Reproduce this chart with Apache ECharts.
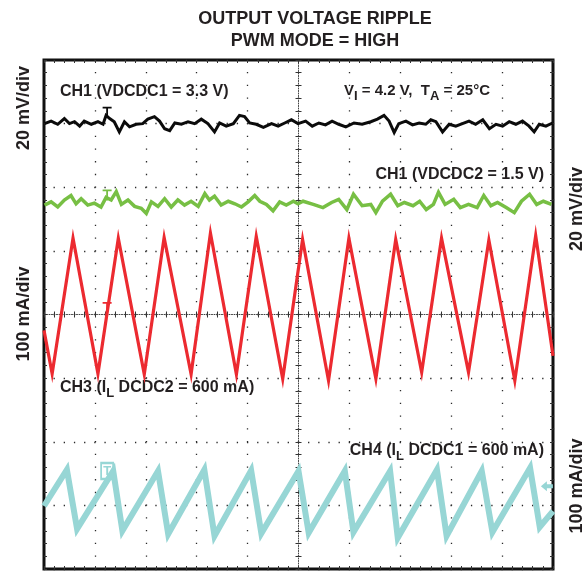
<!DOCTYPE html>
<html><head><meta charset="utf-8">
<script src="https://cdn.jsdelivr.net/npm/echarts@6/dist/echarts.min.js"></script>
<style>html,body{margin:0;padding:0;background:#fff}#c{width:587px;height:571px}</style>
</head><body><div id="c"></div>
<script>
// Values are in screen divisions: time 0..10 div, amplitude -4..4 div
var titleLines = ['OUTPUT VOLTAGE RIPPLE', 'PWM MODE = HIGH'];
var ch1Label = 'CH1 (VDCDC1 = 3.3 V)';
var ch2Label = 'CH1 (VDCDC2 = 1.5 V)';
var ch3Label = 'CH3 (I{s|L} DCDC2 = 600 mA)';
var ch4Label = 'CH4 (I{s|L} DCDC1 = 600 mA)';
var condLabel = 'V{s|I} = 4.2 V,  T{s|A} = 25°C';
var scaleLabels = ['20 mV/div', '100 mA/div'];

var ch1VDCDC1 = [[0.01,3.00],[0.14,3.04],[0.27,2.99],[0.40,3.08],[0.50,3.00],[0.60,3.03],[0.70,2.96],[0.79,3.04],[0.93,2.99],[1.06,3.03],[1.16,2.99],[1.22,3.13],[1.29,3.08],[1.38,3.03],[1.48,2.87],[1.58,3.03],[1.68,2.95],[1.81,2.99],[1.94,3.00],[2.04,3.07],[2.17,3.11],[2.27,3.04],[2.37,2.92],[2.47,2.89],[2.57,3.01],[2.70,2.99],[2.83,3.03],[2.96,3.00],[3.09,3.07],[3.22,3.00],[3.35,2.87],[3.45,3.01],[3.58,2.96],[3.72,3.00],[3.84,3.13],[3.94,3.11],[4.04,3.01],[4.17,2.99],[4.31,2.94],[4.47,3.00],[4.60,2.96],[4.73,3.01],[4.86,3.06],[4.99,3.00],[5.14,3.04],[5.27,2.96],[5.40,3.01],[5.53,2.98],[5.66,3.04],[5.79,2.99],[5.93,2.95],[6.09,3.01],[6.25,2.99],[6.42,3.03],[6.55,3.07],[6.68,3.13],[6.78,3.04],[6.88,2.86],[6.97,3.00],[7.11,3.04],[7.24,2.98],[7.37,3.01],[7.50,2.99],[7.60,3.06],[7.70,3.03],[7.83,2.87],[7.96,2.99],[8.09,2.96],[8.22,3.00],[8.35,3.04],[8.48,2.99],[8.62,3.06],[8.75,2.92],[8.88,2.99],[9.01,2.96],[9.14,3.03],[9.27,2.99],[9.40,3.04],[9.53,2.96],[9.63,2.87],[9.73,2.99],[9.86,2.96],[9.99,3.01]];

var ch1VDCDC2 = [[0.01,1.72],[0.14,1.77],[0.27,1.69],[0.40,1.80],[0.53,1.87],[0.63,1.74],[0.73,1.82],[0.86,1.72],[0.99,1.75],[1.12,1.69],[1.22,1.84],[1.32,1.80],[1.42,1.93],[1.52,1.73],[1.65,1.80],[1.78,1.70],[1.91,1.67],[2.01,1.59],[2.11,1.77],[2.24,1.70],[2.37,1.82],[2.50,1.69],[2.63,1.80],[2.76,1.72],[2.89,1.78],[3.03,1.70],[3.16,1.90],[3.25,1.80],[3.35,1.86],[3.48,1.72],[3.62,1.78],[3.75,1.74],[3.88,1.69],[4.01,1.77],[4.14,1.87],[4.24,1.78],[4.37,1.73],[4.50,1.63],[4.63,1.77],[4.76,1.72],[4.90,1.78],[4.99,1.74],[5.09,1.78],[5.29,1.73],[5.48,1.68],[5.65,1.76],[5.79,1.81],[5.95,1.65],[6.08,1.89],[6.25,1.71],[6.42,1.73],[6.52,1.60],[6.65,1.78],[6.81,1.89],[6.95,1.71],[7.08,1.76],[7.25,1.71],[7.38,1.78],[7.51,1.65],[7.65,1.73],[7.75,1.92],[7.88,1.73],[8.05,1.81],[8.18,1.68],[8.34,1.73],[8.51,1.68],[8.64,1.87],[8.78,1.71],[8.91,1.76],[9.08,1.68],[9.24,1.60],[9.38,1.78],[9.54,1.89],[9.68,1.73],[9.81,1.78],[9.97,1.73]];

var ch3ILDCDC2 = [[0.00,-0.25],[0.16,-0.93],[0.57,1.20],[1.06,-0.93],[1.46,1.20],[1.97,-0.94],[2.36,1.21],[2.89,-0.94],[3.27,1.28],[3.78,-0.94],[4.17,1.23],[4.69,-1.01],[5.08,1.18],[5.59,-1.04],[5.99,1.20],[6.52,-1.01],[6.91,1.18],[7.42,-0.91],[7.81,1.20],[8.34,-0.91],[8.74,1.17],[9.25,-1.04],[9.66,1.24],[10.00,-0.65]];

var ch4ILDCDC1 = [[0.00,-3.01],[0.45,-2.44],[0.65,-3.37],[1.36,-2.46],[1.54,-3.40],[2.24,-2.46],[2.44,-3.45],[3.15,-2.44],[3.35,-3.48],[4.07,-2.45],[4.27,-3.44],[5.00,-2.46],[5.20,-3.43],[5.91,-2.46],[6.08,-3.42],[6.80,-2.46],[6.95,-3.51],[7.72,-2.44],[7.91,-3.48],[8.60,-2.46],[8.81,-3.42],[9.55,-2.41],[9.74,-3.34],[10.00,-3.09]];

var triggerX = 1.24;
var triggerLevels = [3.18, 1.88, 0.11, -2.46];
var ch4Ground = [9.88, -2.70];

var colors = {ch1:'#0b0b0b', ch2:'#77bf44', ch3:'#ec2a30', ch4:'#97d6d5', text:'#231f20', grid:'#2a2a2a'};
var FONT = '"Liberation Sans", Arial, sans-serif';
var TPATH = 'path://M0,0H10V2H6V12H4V2H0Z';

function xAx(pos, onZero, inside, withSplit, lineShow) {
  return {type:'value', min:0, max:10, interval:1, position:pos,
    axisLine:{show:lineShow, onZero:onZero, lineStyle:{color:'#444', width:1, type:[1,1.5]}},
    axisTick:{show:true, inside:inside, length:3, lineStyle:{color:'#333', width:1}},
    minorTick:{show:true, splitNumber:5, length:3, lineStyle:{color:'#333', width:1}},
    axisLabel:{show:false},
    splitLine:{show:withSplit, lineStyle:{color:colors.grid, width:1.3, type:[1.3,11.42], dashOffset:0.65}},
    minorSplitLine:{show:false}};
}
function yAx(pos, offset, inside, withSplit, lineShow) {
  return {type:'value', min:-4, max:4, interval:1, position:pos, offset:offset,
    axisLine:{show:lineShow, onZero:false, lineStyle:{color:'#444', width:1, type:[1,1.5]}},
    axisTick:{show:true, inside:inside, length:3, lineStyle:{color:'#333', width:1}},
    minorTick:{show:true, splitNumber:5, length:3, lineStyle:{color:'#333', width:1}},
    axisLabel:{show:false},
    splitLine:{show:withSplit, lineStyle:{color:colors.grid, width:1.3, type:[1.3,8.88], dashOffset:0.65}},
    minorSplitLine:{show:false}};
}

function trace(name, data, color, width, mark) {
  return {name:name, type:'line', data:data, xAxisIndex:0, yAxisIndex:0, showSymbol:false, symbol:'none',
    lineStyle:{color:color, width:width, join:'miter'}, itemStyle:{color:color}, silent:true, animation:false,
    markPoint: mark};
}
function tMark(level, color) {
  return {silent:true, symbol:TPATH, symbolSize:[9,11], itemStyle:{color:color}, label:{show:false},
    data:[{coord:[triggerX, level]}]};
}

var rich = {s:{fontSize:13, fontWeight:'bold', fontFamily:FONT, fill:colors.text, padding:[10,0,0,0]}};
function txt(text, x, y, size, align, rot) {
  return {type:'text', x:x, y:y, rotation:rot||0, silent:true,
    style:{text:text, fontSize:size, fontWeight:'bold', fontFamily:FONT, fill:colors.text,
      align:align, verticalAlign:'middle', rich:rich}};
}

var chart = echarts.init(document.getElementById('c'), null, {renderer:'canvas'});
chart.setOption({
  animation:false,
  backgroundColor:'#ffffff',
  grid:{left:44, top:60, width:509, height:509, show:true, borderColor:'#111', borderWidth:3, backgroundColor:'#fff'},
  xAxis:[xAx('bottom', true, false, true, true), xAx('top', true, false, false, false),
         xAx('bottom', false, true, false, false), xAx('top', false, true, false, false)],
  yAxis:[yAx('left', -254.5, false, true, true), yAx('right', -254.5, false, false, false),
         yAx('left', 0, true, false, false), yAx('right', 0, true, false, false)],
  series:[
    trace('CH4', ch4ILDCDC1, colors.ch4, 6, {silent:true, label:{show:false}, data:[
      {coord:[triggerX, triggerLevels[3]], symbol:'rect', symbolSize:[12,16],
       itemStyle:{color:'rgba(255,255,255,0)', borderColor:colors.ch4, borderWidth:2},
       label:{show:true, position:'inside', formatter:'T', color:colors.ch4, fontWeight:'bold', fontSize:13}},
      {coord:ch4Ground, symbol:'path://M0,5L7,0V3H14V7H7V10Z', symbolSize:[12,10], itemStyle:{color:colors.ch4}}]}),
    trace('CH3', ch3ILDCDC2, colors.ch3, 3.2, tMark(triggerLevels[2], colors.ch3)),
    trace('CH2', ch1VDCDC2, colors.ch2, 3.5, tMark(triggerLevels[1], colors.ch2)),
    trace('CH1', ch1VDCDC1, colors.ch1, 3, tMark(triggerLevels[0], colors.ch1))
  ],
  graphic:[
    txt(titleLines[0], 315, 19, 18, 'center'),
    txt(titleLines[1], 315, 41, 18, 'center'),
    txt(ch1Label, 60, 92, 16, 'left'),
    txt(condLabel, 344, 91, 15, 'left'),
    txt(ch2Label, 544, 175, 16, 'right'),
    txt(ch3Label, 60, 388, 16, 'left'),
    txt(ch4Label, 544, 451, 16, 'right'),
    txt(scaleLabels[0], 24, 108, 18, 'center', Math.PI/2),
    txt(scaleLabels[1], 24, 314, 18, 'center', Math.PI/2),
    txt(scaleLabels[0], 577, 209, 18, 'center', Math.PI/2),
    txt(scaleLabels[1], 577, 486, 18, 'center', Math.PI/2)
  ]
});
</script>
</body></html>
